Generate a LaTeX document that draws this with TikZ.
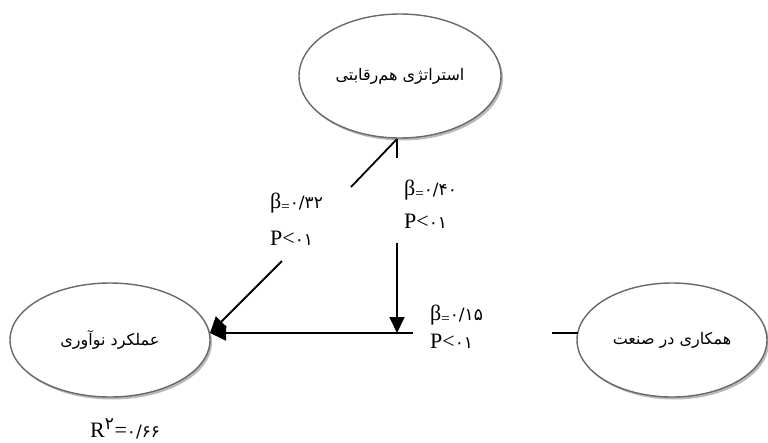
\documentclass[tikz,border=0pt]{standalone}
\usepackage{fontspec}
\setmainfont{Liberation Serif}
\newfontfamily\fa[Script=Arabic]{DejaVu Sans}
\TeXXeTstate=1
\usetikzlibrary{shapes.geometric,shadows,arrows.meta}
\definecolor{ellgray}{RGB}{105,105,105}
\definecolor{shadowgray}{RGB}{185,185,185}
\newcommand\eqsub{\raisebox{-3.5pt}{\fontsize{15}{15}\selectfont =}}
\newcommand\pdig[1]{{\fa\fontsize{17}{17}\selectfont #1}}
\begin{document}
\begin{tikzpicture}[x=1pt,y=-1pt,
 var/.style={ellipse, draw=ellgray, line width=1.4pt, fill=white, inner sep=0pt,
   drop shadow={shadow xshift=2pt, shadow yshift=-2.5pt, fill=shadowgray, opacity=1},
   font=\fa\fontsize{16}{18}\selectfont},
 conn/.style={line width=1.8pt, black},
 arr/.style={conn, -{Triangle[length=16pt,width=15pt]}},
 lab/.style={anchor=base west, inner sep=0pt, font=\fontsize{22}{26}\selectfont}]
\useasboundingbox (0,0) rectangle (768,442);
\fill[white] (0,0) rectangle (768,442);
\node[var, minimum width=202pt, minimum height=124pt] (T) at (400,76) {\beginR استراتژی هم‌رقابتی\endR};
\node[var, minimum width=200pt, minimum height=114pt] (L) at (110,340) {\beginR عملکرد نوآوری\endR};
\node[var, minimum width=190pt, minimum height=114pt] (R) at (672,340) {\beginR همکاری در صنعت\endR};
\coordinate (t1) at (397,139);
\coordinate (d1) at (351,187);
\coordinate (d2) at (282,261);
\coordinate (tip) at (210,333);
\coordinate (v1) at (397,158);
\coordinate (v2) at (397,243);
\coordinate (vt) at (397,333);
\coordinate (h1) at (413,333);
\coordinate (h2) at (552,333);
\coordinate (h3) at (578,333);
\draw[conn] (t1) -- (d1);
\draw[arr] (d2) -- (tip);
\draw[conn] (t1) -- (v1);
\draw[arr] (v2) -- (vt);
\draw[arr] (h1) -- (tip);
\draw[conn] (h2) -- (h3);
\node[lab] (b1) at (270,208) {β\eqsub\pdig{۰/۳۲}};
\node[lab] (p1) at (270,245) {P<\pdig{۰۱}};
\node[lab] (b2) at (404,195) {β\eqsub\pdig{۰/۴۰}};
\node[lab] (p2) at (404,228) {P<\pdig{۰۱}};
\node[lab] (b3) at (430,320) {β\eqsub\pdig{۰/۱۵}};
\node[lab] (p3) at (430,348) {P<\pdig{۰۱}};
\node[lab] (r2) at (90,437) {R\textsuperscript{\pdig{۲}}=\pdig{۰/۶۶}};
\end{tikzpicture}
\end{document}
